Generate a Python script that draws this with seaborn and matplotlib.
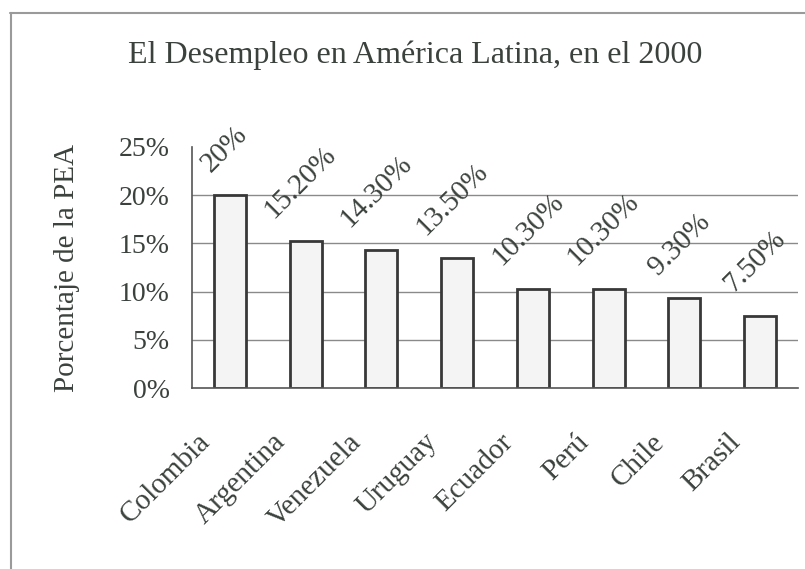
import matplotlib
matplotlib.use("Agg")
import matplotlib.pyplot as plt
import matplotlib.transforms as mtransforms
from matplotlib.lines import Line2D
from matplotlib.ticker import PercentFormatter
import seaborn as sns
import pandas as pd

# Unemployment in Latin America, 2000 (share of the economically active population)
countries = ["Colombia", "Argentina", "Venezuela", "Uruguay", "Ecuador", "Perú", "Chile", "Brasil"]
unemployment = [20.0, 15.2, 14.3, 13.5, 10.3, 10.3, 9.3, 7.5]
value_labels = ["20%", "15.20%", "14.30%", "13.50%", "10.30%", "10.30%", "9.30%", "7.50%"]
y_ticks = [0, 5, 10, 15, 20, 25]

df = pd.DataFrame({"country": countries, "rate": unemployment})

sns.set_theme(style="white")
plt.rcParams["font.family"] = ["Liberation Serif", "DejaVu Serif"]

text_color = "#3b423d"
edge_color = "#383838"

fig = plt.figure(figsize=(8.05, 5.69), dpi=100)
ax = fig.add_axes([192 / 805, 1 - 388 / 569, 606 / 805, (388 - 147) / 569])

sns.barplot(data=df, x="country", y="rate", ax=ax, width=0.42,
            color="#f4f4f4", edgecolor=edge_color, linewidth=2.0,
            saturation=1)

ax.set_ylim(0, 25)
ax.set_xlim(-0.5, len(countries) - 0.5)
ax.set_yticks(y_ticks)
ax.yaxis.set_major_formatter(PercentFormatter(decimals=0))

# horizontal gridlines (no line at the top value)
for v in y_ticks[1:-1]:
    ax.axhline(v, color="#8a8a8a", lw=1.0, zorder=0)

for s in ["top", "right"]:
    ax.spines[s].set_visible(False)
for s in ["left", "bottom"]:
    ax.spines[s].set_color("#555555")
    ax.spines[s].set_linewidth(1.2)

# category boundaries carry the x ticks
ax.set_xticks([i - 0.5 for i in range(len(countries) + 1)], minor=False)
ax.set_xticklabels([])
ax.set_xticks(range(len(countries)), minor=True)
ax.set_xticklabels(countries, minor=True, rotation=45, ha="right", va="center",
                   rotation_mode="anchor", fontsize=21, color=text_color)
ax.tick_params(axis="x", which="major", direction="out", length=6, width=1, color="#555555")
ax.tick_params(axis="x", which="minor", length=0, pad=36)
shift = mtransforms.ScaledTranslation(-24 / 100, 0, fig.dpi_scale_trans)
for lbl in ax.get_xticklabels(minor=True):
    lbl.set_transform(lbl.get_transform() + shift)

ax.tick_params(axis="y", direction="inout", length=8, width=1, color="#555555",
               labelsize=20, labelcolor=text_color, pad=12)

ax.set_xlabel("")
ax.set_ylabel("Porcentaje de la PEA", fontsize=21, color=text_color)
ax.yaxis.set_label_coords(-0.185, 0.5)

# rotated value labels above each bar
for i, (v, t) in enumerate(zip(unemployment, value_labels)):
    ax.annotate(t, xy=(i, v), xytext=(-5, 18), textcoords="offset pixels",
                rotation=45, ha="center", va="bottom", fontsize=21,
                color=text_color, annotation_clip=False)

fig.text(415 / 805, 1 - 55 / 569, "El Desempleo en América Latina, en el 2000",
         ha="center", va="center", fontsize=23, color=text_color)

# partial frame around the chart area
fig.add_artist(Line2D([10 / 805, 1.0], [1 - 13 / 569, 1 - 13 / 569],
                      transform=fig.transFigure, color="#9a9a9a", lw=1.5))
fig.add_artist(Line2D([11 / 805, 11 / 805], [1 - 13 / 569, 0],
                      transform=fig.transFigure, color="#9a9a9a", lw=1.5))

fig.savefig("out.png", dpi=100, facecolor="white")
